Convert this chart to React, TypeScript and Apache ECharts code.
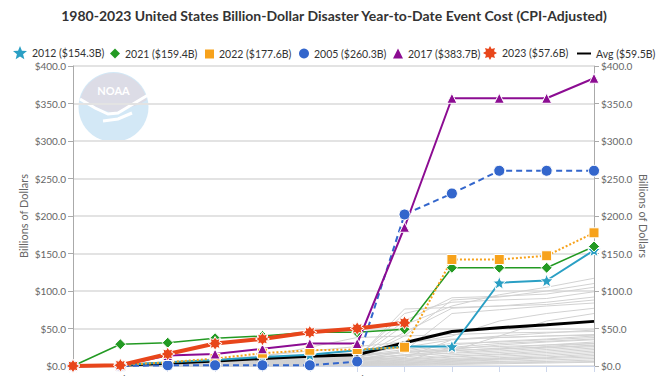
import React, { useEffect, useRef } from "react";
import * as echarts from "echarts";

const months = ["Jan", "Feb", "Mar", "Apr", "May", "Jun", "Jul", "Aug", "Sep", "Oct", "Nov", "Dec"];

const y2012 = [0, 1, 5, 8, 12, 15, 21, 26, 26, 111, 114, 154.3];
const y2021 = [0, 29, 31, 37, 40, 45, 45, 49, 131, 131, 131, 159.4];
const y2022 = [0, 1, 5, 10, 17, 21, 22, 25, 142, 142, 147, 177.6];
const y2005 = [0, 0, 1, 1, 1, 1, 6, 202, 230, 260.3, 260.3, 260.3];
const y2017 = [0, 1, 14, 16, 23, 30, 30, 185, 357, 357, 357, 383.7];
const y2023 = [0, 1, 16, 30, 36, 45, 50, 57.6];
const yAvg = [0, 1, 3.5, 6.7, 10, 13, 15, 31, 46, 51, 55, 59.5];

const otherYears = [
  [0, 1, 2, 4, 6, 8, 10, 55, 80, 95, 105, 117],
  [0, 0, 1, 3, 5, 7, 9, 40, 88, 92, 100, 110],
  [0, 2, 3, 5, 8, 10, 14, 60, 91, 93, 96, 105],
  [0, 1, 3, 5, 7, 9, 12, 70, 85, 88, 90, 99],
  [0, 1, 2, 3, 5, 8, 10, 45, 77, 80, 85, 92],
  [0, 1, 2, 4, 6, 8, 11, 76, 78, 80, 82, 88],
  [0, 0, 1, 2, 4, 6, 8, 20, 70, 75, 80, 84],
  [0, 1, 2, 4, 6, 9, 12, 30, 40, 60, 70, 77],
  [0, 0, 1, 3, 5, 6, 8, 15, 20, 40, 60, 70],
  [0, 1, 2, 4, 8, 12, 16, 25, 35, 40, 44, 48],
  [0, 0, 2, 3, 6, 9, 12, 20, 28, 33, 36, 40],
  [0, 1, 3, 5, 8, 12, 14, 22, 30, 32, 35, 38],
  [0, 0, 1, 3, 5, 8, 10, 18, 22, 28, 32, 35],
  [0, 1, 2, 4, 6, 8, 10, 15, 20, 24, 28, 32],
  [0, 0, 1, 2, 4, 6, 8, 12, 18, 22, 26, 30],
  [0, 1, 2, 3, 5, 7, 9, 14, 17, 20, 24, 28],
  [0, 0, 1, 2, 3, 5, 7, 10, 15, 18, 22, 26],
  [0, 0, 1, 2, 3, 4, 6, 9, 13, 16, 20, 24],
  [0, 0, 1, 1, 2, 4, 5, 8, 12, 15, 18, 22],
  [0, 0, 0, 1, 2, 3, 5, 7, 10, 13, 16, 20],
  [0, 0, 1, 1, 2, 3, 4, 6, 9, 11, 14, 18],
  [0, 0, 0, 1, 1, 2, 3, 5, 8, 10, 12, 16],
  [0, 0, 0, 1, 1, 2, 3, 4, 7, 9, 11, 14],
  [0, 0, 0, 0, 1, 1, 2, 4, 6, 8, 10, 12],
  [0, 0, 0, 0, 1, 1, 2, 3, 5, 6, 8, 10],
  [0, 0, 0, 0, 0, 1, 1, 2, 4, 5, 6, 8],
  [0, 0, 0, 0, 0, 1, 1, 2, 3, 4, 5, 6],
  [0, 0, 0, 0, 0, 0, 1, 1, 2, 3, 4, 5],
  [0, 0, 2, 4, 7, 10, 14, 19, 24, 26, 28, 30],
  [0, 1, 3, 6, 9, 12, 15, 18, 21, 23, 25, 27],
  [0, 0, 1, 2, 4, 6, 8, 11, 35, 38, 40, 42],
  [0, 0, 0, 1, 2, 3, 4, 6, 25, 30, 33, 36],
  [0, 2, 4, 8, 14, 20, 26, 32, 36, 38, 40, 41],
  [0, 1, 3, 6, 12, 25, 38, 40, 42, 44, 45, 46],
];

const names = {
  s2012: "2012 ($154.3B)",
  s2021: "2021 ($159.4B)",
  s2022: "2022 ($177.6B)",
  s2005: "2005 ($260.3B)",
  s2017: "2017 ($383.7B)",
  s2023: "2023 ($57.6B)",
  avg: "Avg ($59.5B)",
};

const TITLE = "1980-2023 United States Billion-Dollar Disaster Year-to-Date Event Cost (CPI-Adjusted)";
const AXIS_NAME = "Billions of Dollars";

function starPath(n: number, ro: number, ri: number) {
  let d = "";
  for (let i = 0; i < 2 * n; i++) {
    const a = -Math.PI / 2 + (i * Math.PI) / n;
    const r = i % 2 ? ri : ro;
    d += (i ? "L" : "M") + (10 + r * Math.cos(a)).toFixed(2) + "," + (10 + r * Math.sin(a)).toFixed(2);
  }
  return "path://" + d + "Z";
}

const STAR = starPath(5, 10, 4.4);
const BURST = starPath(8, 10, 6.2);
const LINE_ICON = "path://M0,0L24,0L24,3.4L0,3.4Z";

const FONT = "Lato, 'Noto Sans', sans-serif";

function arcPoints(cx: number, cy: number, r: number, a0: number, a1: number, steps: number) {
  const pts: number[][] = [];
  for (let i = 0; i <= steps; i++) {
    const a = ((a0 + ((a1 - a0) * i) / steps) * Math.PI) / 180;
    pts.push([cx + r * Math.cos(a), cy + r * Math.sin(a)]);
  }
  return pts;
}

export default function App() {
  const ref = useRef<HTMLDivElement>(null);
  useEffect(() => {
    if (!ref.current) return;
    const chart = echarts.init(ref.current, null, { renderer: "svg" });

    const C = { cx: 113.5, cy: 107, r: 35 };
    const grayPoly = [
      ...arcPoints(C.cx, C.cy, C.r - 1, 192, 348, 30),
      [140, 104],
      [122, 110],
      [113, 113],
      [103, 110],
      [90, 104],
    ];

    const highlighted = [
      { key: "s2012", data: y2012, color: "#2a9fc4", symbol: STAR, size: 13, width: 2, type: "solid" },
      { key: "s2021", data: y2021, color: "#239a23", symbol: "diamond", size: 11, width: 1.5, type: "solid" },
      { key: "s2022", data: y2022, color: "#f7a21b", symbol: "rect", size: 10, width: 2, type: "dotted" },
      { key: "s2005", data: y2005, color: "#3366cc", symbol: "circle", size: 11, width: 2, type: [6, 4] },
      { key: "s2017", data: y2017, color: "#8c0c92", symbol: "triangle", size: 10, width: 2, type: "solid" },
      { key: "s2023", data: y2023, color: "#e8461b", symbol: BURST, size: 14, width: 4, type: "solid" },
    ];

    const legendItems = [
      { key: "s2012", icon: STAR, w: 14, h: 14, left: 13 },
      { key: "s2021", icon: "diamond", w: 10, h: 10, left: 110 },
      { key: "s2022", icon: "rect", w: 9, h: 9, left: 205 },
      { key: "s2005", icon: "circle", w: 10, h: 10, left: 299 },
      { key: "s2017", icon: "triangle", w: 10, h: 10, left: 393 },
      { key: "s2023", icon: BURST, w: 14, h: 14, left: 483 },
      { key: "avg", icon: LINE_ICON, w: 14, h: 10, left: 577 },
    ];

    const yLabel = { fontSize: 10, color: "#666", margin: 7, formatter: (v: number) => "$" + v.toFixed(1) };

    const option: any = {
      animation: false,
      backgroundColor: "#fff",
      textStyle: { fontFamily: FONT },
      title: {
        text: TITLE,
        left: "center",
        top: 3,
        textStyle: { fontSize: 14, fontWeight: "bold", color: "#333", fontFamily: FONT },
      },
      legend: legendItems.map((it) => ({
        left: it.left,
        top: 53 - it.h / 2,
        itemWidth: it.w,
        itemHeight: it.h,
        itemGap: 0,
        padding: 0,
        selectedMode: false,
        itemStyle: { borderWidth: 0 },
        textStyle: { fontSize: 10.5, color: "#333", fontFamily: FONT, padding: [0, 0, 0, 0] },
        data: [{ name: (names as any)[it.key], icon: it.icon }],
      })),
      grid: { left: 73, right: 74, top: 66, height: 300 },
      xAxis: {
        type: "category",
        data: months,
        boundaryGap: false,
        axisLine: { show: true, lineStyle: { color: "#ccd6eb" } },
        axisTick: { show: true, length: 6, lineStyle: { color: "#ccd6eb" } },
        axisLabel: { fontSize: 11, color: "#666", margin: 8 },
        splitLine: { show: false },
      },
      yAxis: [
        {
          type: "value",
          min: 0,
          max: 400,
          interval: 50,
          position: "left",
          name: AXIS_NAME,
          nameLocation: "middle",
          nameGap: 44,
          nameRotate: 90,
          nameMoveOverlap: false,
          nameTextStyle: { fontSize: 11, color: "#666" },
          axisLine: { show: true, lineStyle: { color: "#aaa" } },
          axisTick: { show: true, length: 5, lineStyle: { color: "#aaa" } },
          axisLabel: yLabel,
          splitLine: { show: true, lineStyle: { color: "#e3e3e3", width: 2 } },
        },
        {
          type: "value",
          min: 0,
          max: 400,
          interval: 50,
          position: "right",
          name: AXIS_NAME,
          nameLocation: "middle",
          nameGap: 44,
          nameRotate: -90,
          nameMoveOverlap: false,
          nameTextStyle: { fontSize: 11, color: "#666" },
          axisLine: { show: true, lineStyle: { color: "#aaa" } },
          axisTick: { show: true, length: 5, lineStyle: { color: "#aaa" } },
          axisLabel: yLabel,
          splitLine: { show: false },
        },
      ],
      graphic: [
        { type: "circle", z: -10, shape: { cx: C.cx, cy: C.cy, r: C.r }, style: { fill: "#d3e8f6" } },
        { type: "polygon", z: -9, shape: { points: grayPoly }, style: { fill: "#dcdce6" } },
        {
          type: "polyline",
          z: -8,
          shape: { points: [[80, 99], [95, 108], [108, 114], [118, 113], [133, 104], [148, 95]] },
          style: { stroke: "#fff", lineWidth: 3, fill: null },
        },
        {
          type: "polyline",
          z: -8,
          shape: { points: [[103, 121], [118, 119], [132, 113]] },
          style: { stroke: "#fff", lineWidth: 3, fill: null },
        },
        {
          type: "text",
          z: -7,
          x: 113.5,
          y: 90,
          style: { text: "NOAA", fill: "#fff", font: "bold 11px " + FONT, align: "center", verticalAlign: "middle" },
        },
      ],
      series: [
        ...otherYears.map((d, i) => ({
          name: "other" + i,
          type: "line",
          data: d,
          symbol: "none",
          silent: true,
          z: 1,
          lineStyle: { color: "#d2d2d2", width: 1 },
          itemStyle: { color: "#d2d2d2" },
        })),
        {
          name: names.avg,
          type: "line",
          data: yAvg,
          symbol: "none",
          z: 3,
          lineStyle: { color: "#000", width: 3 },
          itemStyle: { color: "#000" },
        },
        ...highlighted.map((h) => ({
          name: (names as any)[h.key],
          type: "line",
          data: h.data,
          symbol: h.symbol,
          symbolSize: h.size,
          z: 4,
          lineStyle: { color: h.color, width: h.width, type: h.type },
          itemStyle: { color: h.color, borderColor: "#fff", borderWidth: 1 },
        })),
      ],
    };
    chart.setOption(option);
    return () => chart.dispose();
  }, []);

  return (
    <div style={{ position: "fixed", left: 0, top: 0, width: 668, height: 376, overflow: "hidden", background: "#fff" }}>
      <div ref={ref} style={{ width: 668, height: 392 }} />
    </div>
  );
}
